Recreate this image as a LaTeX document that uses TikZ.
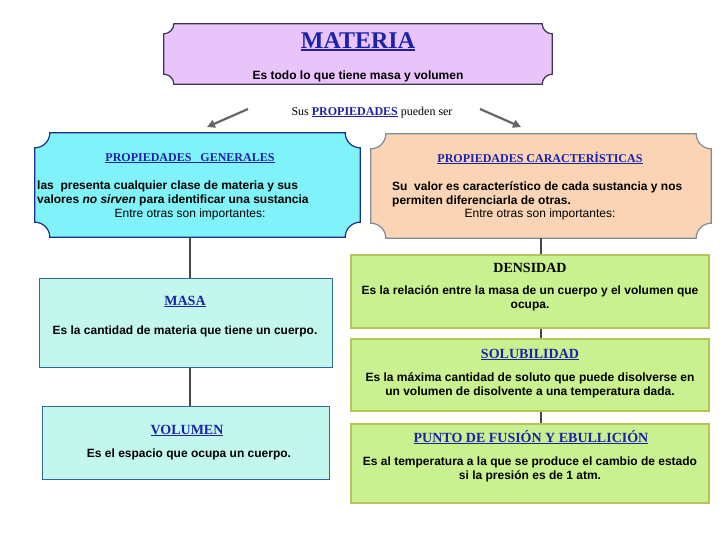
\documentclass[tikz,border=0pt]{standalone}
\usepackage{fontspec}
\setmainfont{Liberation Sans}
\newfontfamily\timesfnt{Liberation Serif}
\usepackage{xcolor}
\usepackage{tikz}
\usetikzlibrary{arrows.meta,positioning,calc}
\definecolor{matfill}{HTML}{E8C4FA}
\definecolor{matdraw}{HTML}{40344F}
\definecolor{genfill}{HTML}{80F2FA}
\definecolor{gendraw}{HTML}{1C2E8C}
\definecolor{carfill}{HTML}{FAD4B4}
\definecolor{cardraw}{HTML}{7F8C99}
\definecolor{aquafill}{HTML}{C3F7EE}
\definecolor{aquadraw}{HTML}{2E6B9C}
\definecolor{grnfill}{HTML}{C9F18F}
\definecolor{grndraw}{HTML}{B8C45A}
\definecolor{tblue}{HTML}{1C22A8}
\definecolor{linkgray}{HTML}{474747}
\pgfdeclarelayer{bg}
\pgfsetlayers{bg,main}
% underlined title text
\newcommand{\ulw}[2][1pt]{\leavevmode\setbox0\hbox{#2}%
  \rlap{\rule[-0.14em]{\wd0}{#1}}\box0}
% plaque outline behind a named node: node, radius, fill, border
\newcommand{\plaque}[4]{%
  \begin{pgfonlayer}{bg}
  \path[fill=#3, draw=#4, line width=1.2pt]
    ([xshift=#2]#1.north west) -- ([xshift=-#2]#1.north east)
    arc[start angle=180, end angle=270, radius=#2]
    -- ([yshift=#2]#1.south east)
    arc[start angle=90, end angle=180, radius=#2]
    -- ([xshift=#2]#1.south west)
    arc[start angle=0, end angle=90, radius=#2]
    -- ([yshift=-#2]#1.north west)
    arc[start angle=270, end angle=360, radius=#2] -- cycle;
  \end{pgfonlayer}}

\begin{document}
\begin{tikzpicture}[x=1pt, y=1pt,
  every node/.style={inner sep=0pt},
  area/.style={minimum width=#1},
  aquabox/.style={draw=aquadraw, fill=aquafill, line width=1pt},
  grnbox/.style={draw=grndraw, fill=grnfill, line width=1.2pt},
  body/.style={font=\fontsize{12}{14}\selectfont\bfseries, align=center},
  plain/.style={font=\fontsize{12}{14}\selectfont},
  ttl/.style={font=\fontsize{12}{14}\selectfont\timesfnt\bfseries, text=tblue},
  bigttl/.style={font=\fontsize{14}{16}\selectfont\timesfnt\bfseries, text=tblue},
  link/.style={draw=linkgray, line width=2pt},
  arr/.style={-{Triangle[length=8pt, width=8pt]}, draw=gray!80!black, line width=2.2pt}
]
\useasboundingbox (0,0) rectangle (728,-546);

% top level
\node[area=388pt, minimum height=60pt] (materia) at (358,-54) {};
\plaque{materia}{10pt}{matfill}{matdraw}
\node[font=\fontsize{24}{26}\selectfont\timesfnt\bfseries, text=tblue, anchor=base]
  (matttl) at (358,-48) {\ulw[2pt]{MATERIA}};
\node[body, anchor=base] (matdef) at (358,-79) {Es todo lo que tiene masa y volumen};
\node[font=\fontsize{12}{14}\selectfont\timesfnt, anchor=base] (sus) at (372,-115)
  {Sus \textcolor{tblue}{\bfseries\ulw{PROPIEDADES}} pueden ser};

\coordinate (la) at (248,-109);
\coordinate (lb) at (207,-127);
\coordinate (ra) at (480,-109);
\coordinate (rb) at (521,-127);
\draw[arr] (la) -- (lb);
\draw[arr] (ra) -- (rb);

% general properties
\node[area=325pt, minimum height=104pt] (gen) at (197.5,-185) {};
\plaque{gen}{15pt}{genfill}{gendraw}
\node[ttl, anchor=base] (genttl) at (190,-161) {\ulw{PROPIEDADES\ \ \ GENERALES}};
\node[body, align=left, anchor=north west] (gentxt) at (37,-181)
  {las\ \ presenta cualquier clase de materia y sus\\
   valores \textit{no sirven} para identificar una sustancia};
\node[plain, anchor=base] (genmore) at (190,-217) {Entre otras son importantes:};

% characteristic properties
\node[area=340pt, minimum height=104pt] (car) at (541,-186) {};
\plaque{car}{15pt}{carfill}{cardraw}
\node[ttl, anchor=base] (carttl) at (540,-162) {\ulw{PROPIEDADES CARACTERÍSTICAS}};
\node[body, align=left, anchor=north west] (cartxt) at (392,-181)
  {Su\ \ valor es característico de cada sustancia y nos\\
   permiten diferenciarla de otras.};
\node[plain, anchor=base] (carmore) at (540,-217) {Entre otras son importantes:};

% left column
\node[aquabox, minimum width=293pt, minimum height=89pt] (masa) at (185.5,-322.5) {};
\node[bigttl, anchor=base] (masattl) at (185,-305) {\ulw{MASA}};
\node[body, anchor=base] (masatxt) at (185,-334) {Es la cantidad de materia que tiene un cuerpo.};

\node[aquabox, minimum width=287pt, minimum height=73pt] (vol) at (185.5,-442.5) {};
\node[bigttl, anchor=base] (volttl) at (187,-434) {\ulw{VOLUMEN}};
\node[body, anchor=base] (voltxt) at (189,-457) {Es el espacio que ocupa un cuerpo.};

% right column
\node[grnbox, minimum width=358pt, minimum height=73pt] (dens) at (530,-291.5) {};
\node[bigttl, text=black, anchor=base] (densttl) at (530,-272) {DENSIDAD};
\node[body, anchor=north] (denstxt) at (530,-285)
  {Es la relación entre la masa de un cuerpo y el volumen que\\ocupa.};

\node[grnbox, minimum width=358pt, minimum height=72pt] (solub) at (530,-375) {};
\node[bigttl, anchor=base] (solubttl) at (530,-358) {\ulw{SOLUBILIDAD}};
\node[body, anchor=north] (solubtxt) at (530,-372)
  {Es la máxima cantidad de soluto que puede disolverse en\\
   un volumen de disolvente a una temperatura dada.};

\node[grnbox, minimum width=358pt, minimum height=79pt] (punto) at (530,-463.5) {};
\node[bigttl, anchor=base] (puntottl) at (531,-442) {\ulw{PUNTO DE FUSIÓN Y EBULLICIÓN}};
\node[body, anchor=north] (puntotxt) at (530,-457)
  {Es al temperatura a la que se produce el cambio de estado\\
   si la presión es de 1 atm.};

% connectors
\draw[link] ([xshift=4pt]masa.north |- gen.south) -- ([xshift=4pt]masa.north);
\draw[link] ([xshift=4pt]masa.south) -- ([xshift=4pt]masa.south |- vol.north);
\draw[link] (car.south) -- (car.south |- dens.north);
\draw[link] (car.south |- dens.south) -- (car.south |- solub.north);
\draw[link] (car.south |- solub.south) -- (car.south |- punto.north);
\end{tikzpicture}
\end{document}
